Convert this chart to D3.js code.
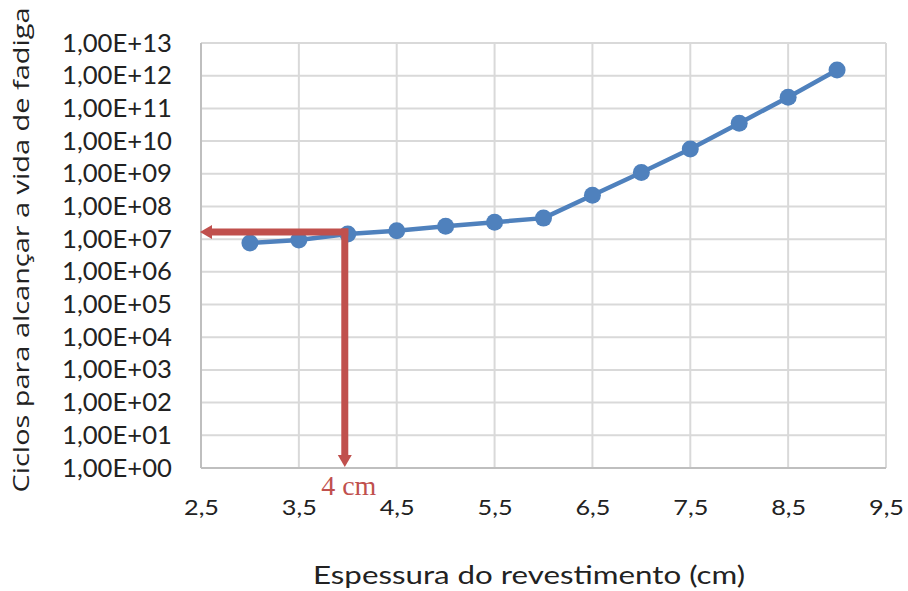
<!DOCTYPE html>
<html>
<head>
<meta charset="utf-8">
<script src="https://cdn.jsdelivr.net/npm/d3@7"></script>
<style>
  html, body { margin: 0; padding: 0; background: #fff; }
  svg { display: block; }
</style>
</head>
<body>
<div id="chart"></div>
<script>
'use strict';

const w = 908;
const h = 591;

//Data
const thickness = [3, 3.5, 4, 4.5, 5, 5.5, 6, 6.5, 7, 7.5, 8, 8.5, 9];
const cycles = [7.6e6, 9.4e6, 1.43e7, 1.8e7, 2.5e7, 3.3e7, 4.4e7, 2.2e8, 1.1e9, 5.7e9, 3.5e10, 2.2e11, 1.5e12];
const xTicks = [2.5, 3.5, 4.5, 5.5, 6.5, 7.5, 8.5, 9.5];
const yExponents = [0, 1, 2, 3, 4, 5, 6, 7, 8, 9, 10, 11, 12, 13];
const markThickness = 4; //the red "4 cm" reading
const markLabel = "4 cm";

const xTitle = "Espessura do revestimento (cm)";
const yTitle = "Ciclos para alcançar a vida de fadiga";

const blue = "#4f81bd";
const red = "#c0504d";
const gridColor = "#d9d9d9";

const plot = { left: 201, right: 886, top: 43, bottom: 468 };

const svg = d3.select("#chart").append("svg").
attr("width", w).
attr("height", h);

const x = d3.scaleLinear().
domain([2.5, 9.5]).
range([plot.left, plot.right]);

const y = d3.scaleLog().
domain([1, 1e13]).
range([plot.bottom, plot.top]);

const yTickValues = yExponents.map(e => Math.pow(10, e));

//GRID
const grid = svg.append("g").attr("class", "grid");

grid.selectAll("line.h").
data(yTickValues).
enter().
append("line").
attr("class", "h").
attr("x1", plot.left).
attr("x2", plot.right).
attr("y1", d => y(d)).
attr("y2", d => y(d)).
attr("stroke", gridColor).
attr("stroke-width", 2);

grid.selectAll("line.v").
data(xTicks).
enter().
append("line").
attr("class", "v").
attr("x1", d => x(d)).
attr("x2", d => x(d)).
attr("y1", plot.top).
attr("y2", plot.bottom).
attr("stroke", gridColor).
attr("stroke-width", 2);

//Axis lines (left and bottom slightly darker)
svg.append("line").
attr("x1", plot.left).attr("x2", plot.left).
attr("y1", plot.top).attr("y2", plot.bottom).
attr("stroke", "#bfbfbf").attr("stroke-width", 2);

svg.append("line").
attr("x1", plot.left).attr("x2", plot.right).
attr("y1", plot.bottom).attr("y2", plot.bottom).
attr("stroke", "#bfbfbf").attr("stroke-width", 2);

//AXES (labels only)
const yAxis = d3.axisLeft(y).
tickValues(yTickValues).
tickSize(0).
tickPadding(29).
tickFormat(d => {
  const e = Math.round(Math.log10(d));
  return "1,00E+" + (e < 10 ? "0" + e : e);
});

svg.append("g").
attr("transform", "translate(" + plot.left + ",0)").
call(yAxis).
call(g => g.select(".domain").remove()).
selectAll("text").
attr("font-family", "Lato, 'Open Sans', sans-serif").
attr("font-size", 25).
attr("fill", "#222").
attr("textLength", 110).
attr("lengthAdjust", "spacingAndGlyphs");

const xAxis = d3.axisBottom(x).
tickValues(xTicks).
tickSize(0).
tickFormat(d => d3.format(".1f")(d).replace(".", ","));

svg.append("g").
attr("transform", "translate(0," + plot.bottom + ")").
call(xAxis).
call(g => g.select(".domain").remove()).
selectAll("text").
attr("y", 47).
attr("dy", 0).
attr("font-family", "Lato, 'Open Sans', sans-serif").
attr("font-size", 22).
attr("fill", "#222").
attr("textLength", 35).
attr("lengthAdjust", "spacingAndGlyphs");

//TITLES
svg.append("text").
attr("x", 529).
attr("y", 584).
attr("text-anchor", "middle").
attr("font-family", "Lato, 'Open Sans', sans-serif").
attr("font-size", 25).
attr("fill", "#222").
attr("textLength", 432).
attr("lengthAdjust", "spacingAndGlyphs").
text(xTitle);

svg.append("text").
attr("transform", "translate(29,250) rotate(-90)").
attr("text-anchor", "middle").
attr("font-family", "'Open Sans', sans-serif").
attr("font-size", 21).
attr("fill", "#222").
attr("textLength", 485).
attr("lengthAdjust", "spacingAndGlyphs").
text(yTitle);

//SERIES
const points = thickness.map((t, i) => ({ t: t, c: cycles[i] }));

svg.append("path").
datum(points).
attr("fill", "none").
attr("stroke", blue).
attr("stroke-width", 4.5).
attr("stroke-linejoin", "round").
attr("d", d3.line().x(d => x(d.t)).y(d => y(d.c)));

svg.selectAll("circle.pt").
data(points).
enter().
append("circle").
attr("class", "pt").
attr("cx", d => x(d.t)).
attr("cy", d => y(d.c)).
attr("r", 8.5).
attr("fill", blue);

//RED READING ARROWS
const markCycles = cycles[thickness.indexOf(markThickness)];
const cx = x(markThickness) - 3;
const cy = y(markCycles) - 2;
const headLen = 12;
const headHalf = 7;

const arrows = svg.append("g").attr("class", "reading");

//horizontal shaft to the y axis
arrows.append("line").
attr("x1", cx + 3.5).
attr("x2", plot.left + headLen - 1).
attr("y1", cy).
attr("y2", cy).
attr("stroke", red).
attr("stroke-width", 7);

arrows.append("path").
attr("d", "M" + (plot.left - 1) + "," + cy +
" L" + (plot.left - 1 + headLen) + "," + (cy - headHalf) +
" L" + (plot.left - 1 + headLen) + "," + (cy + headHalf) + " Z").
attr("fill", red);

//vertical shaft to the x axis
arrows.append("line").
attr("x1", cx).
attr("x2", cx).
attr("y1", cy - 3.5).
attr("y2", plot.bottom - headLen - 1).
attr("stroke", red).
attr("stroke-width", 7);

arrows.append("path").
attr("d", "M" + cx + "," + (plot.bottom - 1) +
" L" + (cx - headHalf) + "," + (plot.bottom - 1 - headLen) +
" L" + (cx + headHalf) + "," + (plot.bottom - 1 - headLen) + " Z").
attr("fill", red);

svg.append("text").
attr("x", x(markThickness) + 1).
attr("y", 495).
attr("text-anchor", "middle").
attr("font-family", "'Liberation Serif', 'Times New Roman', serif").
attr("font-size", 28).
attr("fill", red).
text(markLabel);
</script>
</body>
</html>
